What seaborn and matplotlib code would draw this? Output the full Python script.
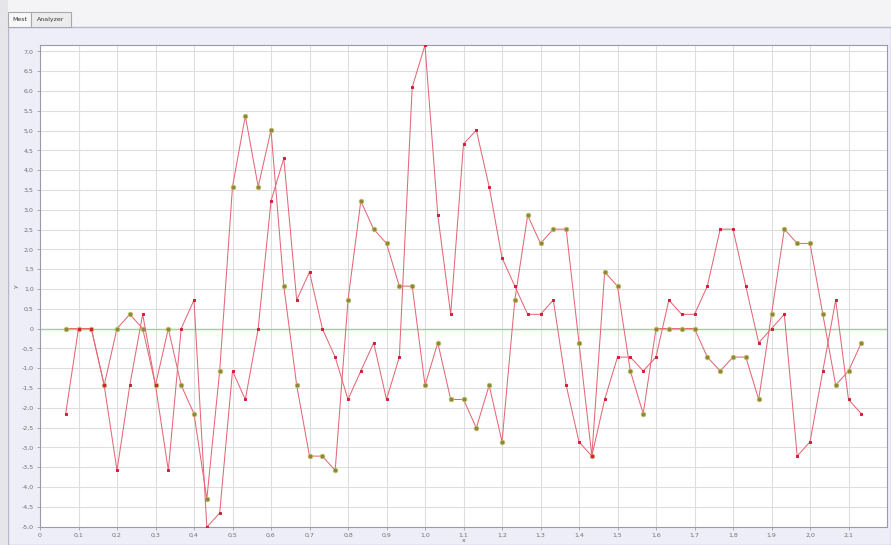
import matplotlib
matplotlib.use("Agg")
import matplotlib.pyplot as plt
from matplotlib.patches import Rectangle
from matplotlib.ticker import FixedLocator, FuncFormatter
import seaborn as sns
import pandas as pd

# sample times (s)
times = [0.0667, 0.1, 0.1333, 0.1667, 0.2, 0.2333, 0.2667, 0.3, 0.3333, 0.3667,
         0.4, 0.4333, 0.4667, 0.5, 0.5333, 0.5667, 0.6, 0.6333, 0.6667, 0.7,
         0.7333, 0.7667, 0.8, 0.8333, 0.8667, 0.9, 0.9333, 0.9667, 1.0, 1.0333,
         1.0667, 1.1, 1.1333, 1.1667, 1.2, 1.2333, 1.2667, 1.3, 1.3333, 1.3667,
         1.4, 1.4333, 1.4667, 1.5, 1.5333, 1.5667, 1.6, 1.6333, 1.6667, 1.7,
         1.7333, 1.7667, 1.8, 1.8333, 1.8667, 1.9, 1.9333, 1.9667, 2.0, 2.0333,
         2.0667, 2.1, 2.1333]

# measured channel (olive markers)
measured = [0, 0, 0, -1.43, 0, 0.36, 0, -1.43, 0, -1.43,
            -2.15, -4.30, -1.07, 3.58, 5.37, 3.58, 5.01, 1.07, -1.43, -3.22,
            -3.22, -3.58, 0.72, 3.22, 2.51, 2.15, 1.07, 1.07, -1.43, -0.36,
            -1.79, -1.79, -2.51, -1.43, -2.86, 0.72, 2.86, 2.15, 2.51, 2.51,
            -0.36, -3.22, 1.43, 1.07, -1.07, -2.15, 0, 0, 0, 0,
            -0.72, -1.07, -0.72, -0.72, -1.79, 0.36, 2.51, 2.15, 2.15, 0.36,
            -1.43, -1.07, -0.36]

# analyzed channel (red markers)
analyzed = [-2.15, 0, 0, -1.43, -3.58, -1.43, 0.36, -1.43, -3.58, 0,
            0.72, -5.01, -4.66, -1.07, -1.79, 0, 3.22, 4.30, 0.72, 1.43,
            0, -0.72, -1.79, -1.07, -0.36, -1.79, -0.72, 6.09, 7.16, 2.86,
            0.36, 4.66, 5.01, 3.58, 1.79, 1.07, 0.36, 0.36, 0.72, -1.43,
            -2.86, -3.22, -1.79, -0.72, -0.72, -1.07, -0.72, 0.72, 0.36, 0.36,
            1.07, 2.51, 2.51, 1.07, -0.36, 0, 0.36, -3.22, -2.86, -1.07,
            0.72, -1.79, -2.15]

x_ticks = [0, 0.1, 0.2, 0.3, 0.4, 0.5, 0.6, 0.7, 0.8, 0.9, 1.0,
           1.1, 1.2, 1.3, 1.4, 1.5, 1.6, 1.7, 1.8, 1.9, 2.0, 2.1]
y_ticks = [-5.0, -4.5, -4.0, -3.5, -3.0, -2.5, -2.0, -1.5, -1.0, -0.5, 0,
           0.5, 1.0, 1.5, 2.0, 2.5, 3.0, 3.5, 4.0, 4.5, 5.0, 5.5, 6.0, 6.5, 7.0]

df = pd.DataFrame({"t": times, "measured": measured, "analyzed": analyzed})

sns.set_style("white")
plt.rcParams["font.family"] = ["DejaVu Sans"]

W, H = 891, 545
fig = plt.figure(figsize=(W / 100, H / 100), dpi=100)
fig.patch.set_facecolor("white")

def fy(py):
    return 1 - py / H

def fx(px):
    return px / W

# window chrome: tab strip and panel
fig.add_artist(Rectangle((fx(0), fy(28)), 1, 28 / H, transform=fig.transFigure,
                         facecolor="#f4f4f6", edgecolor="none", zorder=0))
fig.add_artist(Rectangle((fx(8), fy(545)), (W - 8) / W, (545 - 27) / H,
                         transform=fig.transFigure, facecolor="#eeeef9",
                         edgecolor="#b8b8c8", linewidth=1.0, zorder=0))
fig.add_artist(Rectangle((fx(0), fy(545)), fx(8), 1, transform=fig.transFigure,
                         facecolor="#e6e6ea", edgecolor="none", zorder=0))
fig.add_artist(Rectangle((fx(8), fy(27)), fx(23), 15 / H, transform=fig.transFigure,
                         facecolor="#f8f8f8", edgecolor="#a8a8b0", linewidth=0.8, zorder=1))
fig.add_artist(Rectangle((fx(31), fy(27)), fx(40), 15 / H, transform=fig.transFigure,
                         facecolor="#ececec", edgecolor="#a8a8b0", linewidth=0.8, zorder=1))
fig.text(fx(19.5), fy(19.5), "Mest", fontsize=4.5, ha="center", va="center",
         color="#333333", zorder=2)
fig.text(fx(51), fy(19.5), "Analyzer", fontsize=4.5, ha="center", va="center",
         color="#333333", zorder=2)

ax = fig.add_axes([fx(40), fy(527), (887 - 40) / W, (527 - 45) / H])
ax.set_facecolor("white")

line_color = "#e46878"
sns.lineplot(data=df, x="t", y="measured", ax=ax, color=line_color, linewidth=0.75,
             marker="o", markersize=3.4, markerfacecolor="#8c8a3a",
             markeredgecolor="#c9c26a", markeredgewidth=0.5, zorder=3)
sns.lineplot(data=df, x="t", y="analyzed", ax=ax, color=line_color, linewidth=0.75,
             marker="s", markersize=2.0, markerfacecolor="#d0203c",
             markeredgecolor="#d0203c", zorder=4)

ax.axhline(0, color="#90dd88", linewidth=1.0, zorder=2)

ax.set_xlim(0, 2.2)
ax.set_ylim(min(analyzed), max(analyzed))

ax.xaxis.set_major_locator(FixedLocator(x_ticks))
ax.yaxis.set_major_locator(FixedLocator(y_ticks))

def comma_fmt(v, _pos):
    if abs(v) < 1e-9:
        return "0"
    return f"{v:.1f}".replace(".", ",")

ax.xaxis.set_major_formatter(FuncFormatter(comma_fmt))
ax.yaxis.set_major_formatter(FuncFormatter(comma_fmt))

ax.grid(True, color="#dedede", linewidth=0.8, zorder=1)
ax.set_axisbelow(True)
ax.tick_params(axis="both", labelsize=4.5, labelcolor="#707070", color="#a0a0a0",
               length=2.5, width=0.6, pad=2, direction="out",
               left=True, bottom=True)
for side, sp in ax.spines.items():
    sp.set_color("#9a9aa8")
    sp.set_linewidth(0.8)

ax.set_xlabel("x", fontsize=4.5, color="#606060", labelpad=0)
ax.set_ylabel("y", fontsize=4.5, color="#606060", labelpad=2)

fig.savefig("out.png", dpi=100, facecolor=fig.get_facecolor())
